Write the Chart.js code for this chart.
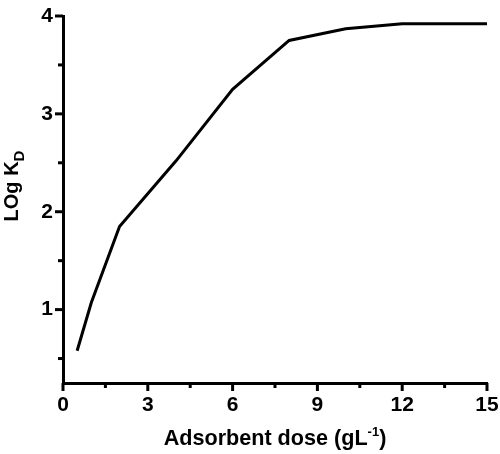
<!DOCTYPE html>
<html>
<head>
<meta charset="utf-8">
<script src="https://cdn.jsdelivr.net/npm/chart.js@4"></script>
<style>
  html, body { margin: 0; padding: 0; background: #fff; }
  #wrap { width: 500px; height: 454px; position: relative; }
</style>
</head>
<body>
<div id="wrap"><canvas id="c" width="500" height="454"></canvas></div>
<script>
// ---- data ----
const doses = [0.5, 1, 2, 4, 6, 8, 10, 12, 15];
const logKd = [0.58, 1.07, 1.85, 2.52, 3.25, 3.75, 3.87, 3.92, 3.92];
const xMajorTicks = [0, 3, 6, 9, 12, 15];
const xMinorTicks = [1.5, 4.5, 7.5, 10.5, 13.5];
const yMajorTicks = [1, 2, 3, 4];
const yMinorTicks = [0.5, 1.5, 2.5, 3.5];
const xTitleMain = 'Adsorbent dose (gL';
const xTitleSup = '-1';
const xTitleEnd = ')';
const yTitleMain = 'LOg K';
const yTitleSub = 'D';

const FONT = "'Liberation Sans', Arial, sans-serif";

const tickPlugin = {
  id: 'tickMarks',
  afterDraw(chart) {
    const ctx = chart.ctx;
    const xs = chart.scales.x, ys = chart.scales.y;
    const ca = chart.chartArea;
    ctx.save();
    ctx.strokeStyle = '#000';
    ctx.lineWidth = 3;
    ctx.lineCap = 'butt';
    const yAxisX = ca.left;
    const xAxisY = ca.bottom;
    const drawY = (v, len) => {
      const p = ys.getPixelForValue(v);
      ctx.beginPath(); ctx.moveTo(yAxisX, p); ctx.lineTo(yAxisX - len, p); ctx.stroke();
    };
    const drawX = (v, len) => {
      const p = xs.getPixelForValue(v);
      ctx.beginPath(); ctx.moveTo(p, xAxisY); ctx.lineTo(p, xAxisY + len); ctx.stroke();
    };
    yMajorTicks.forEach(v => drawY(v, 8));
    yMinorTicks.forEach(v => drawY(v, 5));
    xMajorTicks.forEach(v => drawX(v, 8));
    xMinorTicks.forEach(v => drawX(v, 5));

    // axis titles
    ctx.fillStyle = '#000';
    ctx.textBaseline = 'alphabetic';
    ctx.textAlign = 'left';
    // x title
    const mainF = 'bold 21.6px ' + FONT, supF = 'bold 13px ' + FONT;
    ctx.font = mainF; const w1 = ctx.measureText(xTitleMain).width; const w3 = ctx.measureText(xTitleEnd).width;
    ctx.font = supF; const w2 = ctx.measureText(xTitleSup).width;
    const cx = (ca.left + ca.right) / 2;
    let x0 = cx - (w1 + w2 + w3) / 2;
    const by = 445;
    ctx.font = mainF; ctx.fillText(xTitleMain, x0, by);
    ctx.font = supF; ctx.fillText(xTitleSup, x0 + w1, by - 9);
    ctx.font = mainF; ctx.fillText(xTitleEnd, x0 + w1 + w2, by);

    // y title
    const yMainF = 'bold 20px ' + FONT, ySubF = 'bold 15px ' + FONT;
    ctx.font = yMainF; const v1 = ctx.measureText(yTitleMain).width;
    ctx.font = ySubF; const v2 = ctx.measureText(yTitleSub).width;
    ctx.translate(18, 186);
    ctx.rotate(-Math.PI / 2);
    const s0 = -(v1 + v2) / 2;
    ctx.font = yMainF; ctx.fillText(yTitleMain, s0, 0);
    ctx.font = ySubF; ctx.fillText(yTitleSub, s0 + v1, 6);
    ctx.restore();
  }
};

new Chart(document.getElementById('c'), {
  type: 'line',
  data: {
    datasets: [{
      data: doses.map((d, i) => ({ x: d, y: logKd[i] })),
      borderColor: '#000',
      borderWidth: 3,
      pointRadius: 0,
      tension: 0,
      fill: false,
      clip: false
    }]
  },
  options: {
    responsive: false,
    animation: false,
    devicePixelRatio: 1,
    layout: { padding: { left: 0, top: 16, right: 13, bottom: 0 } },
    plugins: { legend: { display: false }, tooltip: { enabled: false } },
    scales: {
      x: {
        type: 'linear',
        min: 0, max: 15,
        afterBuildTicks: s => { s.ticks = xMajorTicks.map(v => ({ value: v })); },
        afterFit: s => { s.height = 71; s.paddingLeft = 0; s.paddingRight = 0; },
        grid: { display: true, drawOnChartArea: false, drawTicks: false },
        border: { display: true, color: '#000', width: 3 },
        ticks: {
          color: '#000', padding: 10, maxRotation: 0,
          font: { family: FONT, size: 21, weight: 'bold' },
          callback: v => String(v)
        }
      },
      y: {
        type: 'linear',
        min: 0.25, max: 4,
        afterBuildTicks: s => { s.ticks = yMajorTicks.map(v => ({ value: v })); },
        afterFit: s => { s.width = 63; s.paddingTop = 0; s.paddingBottom = 0; },
        grid: { display: true, drawOnChartArea: false, drawTicks: false },
        border: { display: true, color: '#000', width: 3 },
        ticks: {
          color: '#000', padding: 10,
          font: { family: FONT, size: 21, weight: 'bold' },
          callback: v => String(v)
        }
      }
    }
  },
  plugins: [tickPlugin]
});
</script>
</body>
</html>
